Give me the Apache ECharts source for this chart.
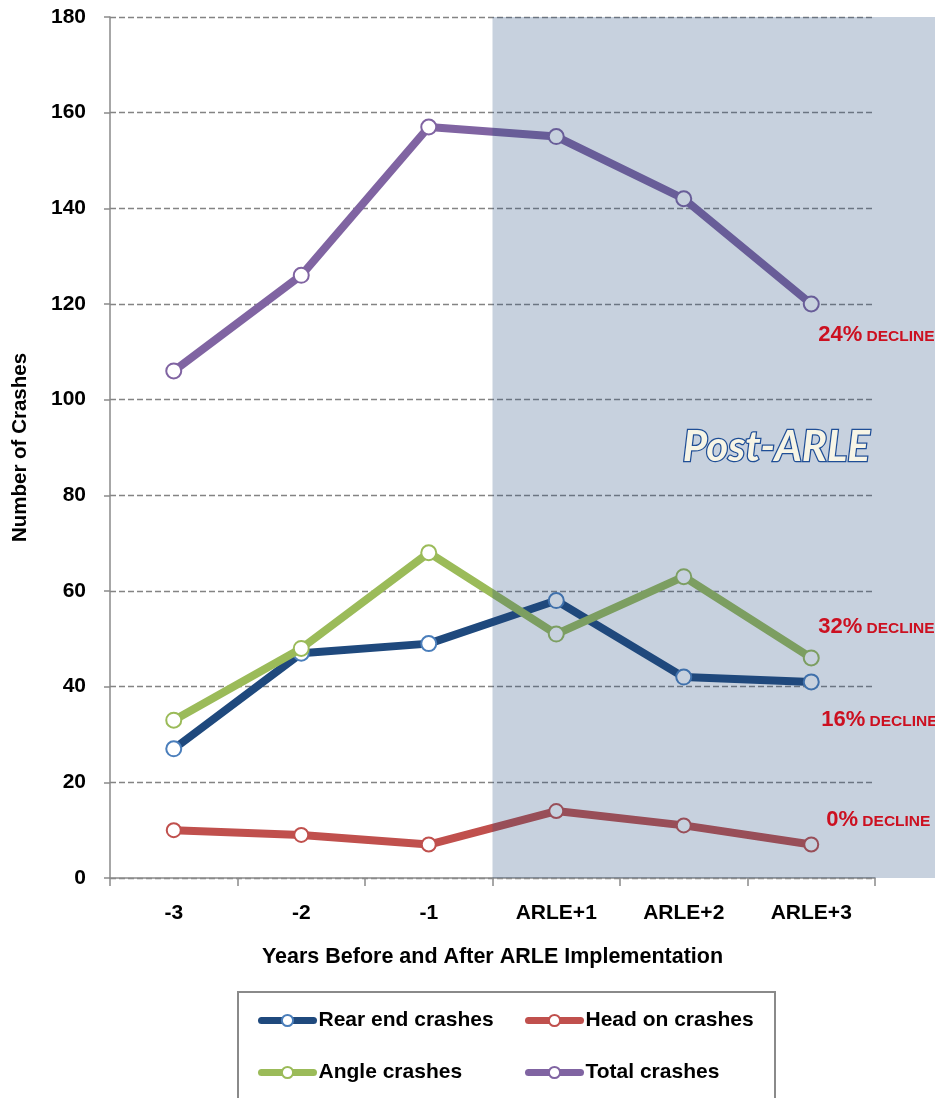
<!DOCTYPE html>
<html>
<head>
<meta charset="utf-8">
<script src="https://cdn.jsdelivr.net/npm/echarts@6/dist/echarts.min.js"></script>
<style>
  html, body { margin: 0; padding: 0; background: #ffffff; }
  #chart { width: 935px; height: 1098px; }
</style>
</head>
<body>
<div id="chart"></div>
<script>
// Years relative to ARLE implementation
const years = ['-3', '-2', '-1', 'ARLE+1', 'ARLE+2', 'ARLE+3'];

// Crash counts per year
const rearEnd = [27, 47, 49, 58, 42, 41];
const headOn = [10, 9, 7, 14, 11, 7];
const angle = [33, 48, 68, 51, 63, 46];
const total = [106, 126, 157, 155, 142, 120];

// Y-axis scale
const yMin = 0;
const yMax = 180;
const yStep = 20;

// Decline notes shown next to the last point of each series
const declineSeries = ['Total crashes', 'Angle crashes', 'Rear end crashes', 'Head on crashes'];
const declinePct = ['24%', '32%', '16%', '0%'];
const declineWord = 'DECLINE';

const seriesNames = ['Rear end crashes', 'Head on crashes', 'Angle crashes', 'Total crashes'];
const seriesData = [rearEnd, headOn, angle, total];

// styling
const lineColors = ['#1f497d', '#c0504d', '#9bbb59', '#8064a2'];
const markerColors = ['#4a7ebb', '#c0504d', '#9bbb59', '#8064a2'];
const markerSizes = [15, 14, 15, 15];
// offset of each decline note from its series' last point
const noteOffsets = [[7, 42], [7, -20], [10, 49], [15, -14]];

const FONT = 'Liberation Sans, Arial, sans-serif';

const chart = echarts.init(document.getElementById('chart'), null, { renderer: 'canvas' });

const series = seriesNames.map((name, i) => ({
  name: name,
  type: 'line',
  data: seriesData[i],
  symbol: 'circle',
  symbolSize: markerSizes[i],
  showSymbol: true,
  lineStyle: { color: lineColors[i], width: 8, cap: 'round', join: 'round' },
  itemStyle: { color: '#ffffff', borderColor: markerColors[i], borderWidth: 2 },
  emphasis: { disabled: true },
  animation: false,
  z: 2 + i
}));

const legendCommon = {
  orient: 'vertical',
  padding: 0,
  itemWidth: 52,
  itemHeight: 14,
  itemGap: 31,
  textStyle: { fontFamily: FONT, fontWeight: 'bold', fontSize: 21, color: '#000' },
  lineStyle: { width: 7, cap: 'round' },
  selectedMode: false
};

chart.setOption({
  animation: false,
  backgroundColor: '#ffffff',
  grid: { left: 110, right: 60, top: 17, bottom: 220, containLabel: false },
  legend: [
    Object.assign({}, legendCommon, { data: ['Rear end crashes', 'Angle crashes'], left: 258, top: 1010 }),
    Object.assign({}, legendCommon, { data: ['Head on crashes', 'Total crashes'], left: 525, top: 1010 })
  ],
  xAxis: {
    type: 'category',
    data: years,
    boundaryGap: true,
    name: 'Years Before and After ARLE Implementation',
    nameLocation: 'middle',
    nameGap: 68,
    nameTextStyle: { fontFamily: FONT, fontWeight: 'bold', fontSize: 21.5, color: '#000' },
    axisLine: { lineStyle: { color: '#8a8a8a', width: 1.5 } },
    axisTick: { show: true, length: 8, alignWithLabel: false, lineStyle: { color: '#8a8a8a', width: 1.5 } },
    axisLabel: { margin: 25, fontFamily: FONT, fontWeight: 'bold', fontSize: 21, color: '#000' },
    splitLine: { show: false }
  },
  yAxis: {
    type: 'value',
    min: yMin,
    max: yMax,
    interval: yStep,
    name: 'Number of Crashes',
    nameLocation: 'middle',
    nameRotate: 90,
    nameGap: 79,
    nameTextStyle: { fontFamily: FONT, fontWeight: 'bold', fontSize: 20.5, color: '#000' },
    axisLine: { show: true, lineStyle: { color: '#8a8a8a', width: 1.5 } },
    axisTick: { show: true, length: 6, lineStyle: { color: '#8a8a8a', width: 1.5 } },
    axisLabel: { margin: 24, fontFamily: FONT, fontWeight: 'bold', fontSize: 21, color: '#000' },
    splitLine: { show: true, lineStyle: { color: '#848484', width: 1.4, type: [6, 3] } }
  },
  series: series
});

// Overlay for the post-implementation period, plus notes, built from axis scales
function drawOverlay() {
  const xBefore = chart.convertToPixel({ xAxisIndex: 0 }, years[2]);
  const xAfter = chart.convertToPixel({ xAxisIndex: 0 }, years[3]);
  const xStart = (xBefore + xAfter) / 2;
  const yTop = chart.convertToPixel({ yAxisIndex: 0 }, yMax);
  const yBottom = chart.convertToPixel({ yAxisIndex: 0 }, yMin);
  const width = chart.getWidth();

  const elements = [{
    type: 'rect',
    silent: true,
    z: 50,
    shape: { x: xStart, y: yTop, width: width - xStart, height: yBottom - yTop },
    style: { fill: 'rgba(31,73,125,0.25)' }
  }];

  declineSeries.forEach((name, i) => {
    const idx = seriesNames.indexOf(name);
    const data = seriesData[idx];
    const last = data.length - 1;
    const pt = chart.convertToPixel({ seriesIndex: idx }, [last, data[last]]);
    elements.push({
      type: 'text',
      silent: true,
      z: 60,
      x: pt[0] + noteOffsets[i][0],
      y: pt[1] + noteOffsets[i][1],
      style: {
        text: '{p|' + declinePct[i] + '}{w| ' + declineWord + '}',
        verticalAlign: 'bottom',
        align: 'left',
        rich: {
          p: { fontFamily: FONT, fontWeight: 'bold', fontSize: 22, fill: '#cc1020', verticalAlign: 'bottom', lineHeight: 22 },
          w: { fontFamily: FONT, fontWeight: 'bold', fontSize: 15.5, fill: '#cc1020', verticalAlign: 'bottom', lineHeight: 22, padding: [0, 0, 1, 0] }
        }
      }
    });
  });

  // Period label
  elements.push({
    type: 'text',
    silent: true,
    z: 60,
    x: xAfter + 220,
    y: chart.convertToPixel({ yAxisIndex: 0 }, 90),
    style: {
      text: 'Post-ARLE',
      align: 'center',
      verticalAlign: 'middle',
      fontFamily: 'Lato, "Noto Sans", sans-serif',
      fontStyle: 'italic',
      fontWeight: 'bold',
      fontSize: 42,
      fill: '#f7f5e6',
      stroke: '#1f4e96',
      lineWidth: 2.5,
      shadowColor: 'rgba(0,0,0,0.35)',
      shadowBlur: 3,
      shadowOffsetX: 1,
      shadowOffsetY: 2
    }
  });

  // Legend frame
  elements.push({
    type: 'rect',
    silent: true,
    z: 0,
    shape: { x: 238, y: 992, width: 537, height: 130 },
    style: { fill: 'none', stroke: '#8a8a8a', lineWidth: 2 }
  });

  chart.setOption({ graphic: { elements: elements } });
}
drawOverlay();
</script>
</body>
</html>
